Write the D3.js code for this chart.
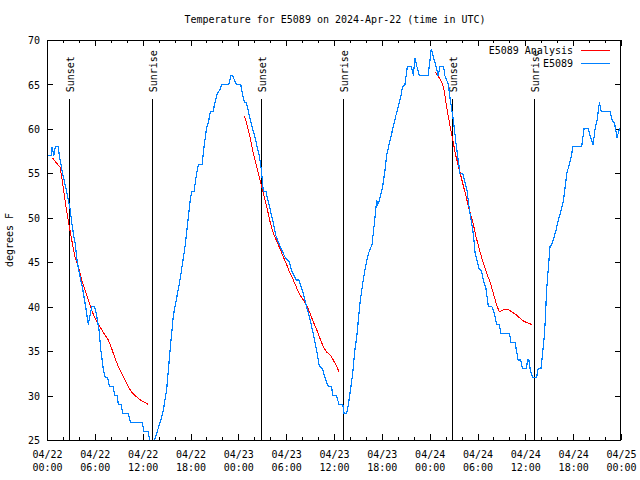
<!DOCTYPE html>
<html><head><meta charset="utf-8">
<script src="https://cdn.jsdelivr.net/npm/d3@7"></script>
<style>
html,body{margin:0;padding:0;background:#fff;}
svg{display:block;}
text{font-family:"DejaVu Sans Mono","Liberation Mono",monospace;font-size:10px;fill:#000;}
</style></head><body>
<svg id="c" width="640" height="480"></svg>
<script>
// ---------- data ----------
const startDate = "2024-04-22T00:00:00Z";
const titleText = "Temperature for E5089 on 2024-Apr-22 (time in UTC)";
const yLabel = "degrees F";
const seriesNames = ["E5089 Analysis", "E5089"];
const seriesColors = ["#ff0000", "#0080ff"];

// observed (hours after start, deg F)
const obsHours = [0.15,0.5,0.65,0.85,1.05,1.4,1.55,1.75,1.95,2.2,2.45,2.68,2.9,3.1,3.35,3.55,3.8,4.14,4.47,4.85,5.18,5.39,5.64,5.98,6.22,6.52,6.77,7.06,7.3,7.6,7.85,8.3,8.5,8.8,8.95,9.3,9.5,10.2,10.45,11.95,12.15,12.65,12.9,13.1,13.3,13.5,13.84,14.2,14.6,15.0,15.43,15.85,16.27,16.68,17.02,17.35,17.72,18.02,18.2,18.45,18.77,19.0,19.45,19.7,20.0,20.3,20.5,20.85,21.07,21.37,21.7,21.9,22.8,23.08,23.3,23.5,23.79,24.3,24.5,24.75,25.0,25.25,25.5,25.8,26.1,26.35,26.63,26.8,26.93,27.13,27.5,27.6,27.97,28.39,28.7,29.14,29.64,29.9,30.4,30.69,31.0,31.23,31.6,32.15,32.57,33.0,33.4,33.83,34.16,34.58,34.87,35.29,35.7,35.83,36.3,36.63,37.1,37.26,37.6,37.8,38.0,38.35,38.6,38.85,39.26,39.6,39.95,40.33,40.77,41.14,41.36,41.5,41.7,42.1,42.4,42.6,42.85,43.1,43.44,43.73,44.07,44.37,44.6,44.9,45.2,45.7,45.85,45.95,46.16,46.4,46.7,47.8,48.04,48.2,48.5,48.8,49.05,49.3,49.75,49.9,50.34,50.55,50.9,51.1,51.3,51.5,51.8,52.15,52.43,52.7,52.97,53.27,53.5,53.7,54.2,54.5,54.73,55.07,55.36,55.8,56.07,56.4,56.7,56.95,58.0,58.2,58.7,58.9,59.1,59.4,59.67,60.1,60.3,60.45,60.6,60.9,61.4,61.6,61.95,62.13,62.34,62.47,62.68,62.9,63.1,63.3,63.5,63.85,64.14,64.4,64.7,64.9,65.2,65.52,65.8,65.94,67.07,67.36,67.9,68.2,68.5,68.75,69.0,69.3,69.5,70.6,70.9,71.2,71.5,71.8,72];
const obsTemps = [57,57,58,57,58,58,57,56,55,54,53,52,51,49.5,48,47,45,43.4,42,40,38,39,40,40,39,37.4,35,33,32,32,31,31,30,30,29,29,28,28,27,27,26,26,25,24,24,25,26,27,28.4,30.6,35,39,41,43,45,47,50,52.4,53,53,55,56,56,58,60,61,62,62,63,64,64.4,65,65,66,66,65.5,65,65,64,63,63,62,61,60,59,58,57,56,55,53,53,52.4,51,49.4,48,47,46,45.5,45,44,43.5,43,43,41.5,40,38.5,37,35,33.3,33,32,31,31,30,30,29,29,28,28,29,30.2,32.5,35,36.6,40.4,42.6,44.5,46,47,50,52,51.5,52,53.5,55.4,57,58,59,60.25,61.4,62.5,63.6,64.75,65,67,67,66.5,66,68,67,66,66,67.75,69,68,67,66,67,67,66,65,63.5,61.4,60,58.4,57,55,55,54,53,51,49.4,48,46,44.3,44,43,42,40,40,39.4,38,38,37,37,36,36,35,34,34,33,33,34,34,33,32,32,33,33,34.4,36.3,38,42,44.5,46.75,47,47.5,48.6,49.75,50.5,51.6,52.75,55,56,57,58,58,60,60,59,58.2,60,61,63,62,62,61,60.6,59,60,60];

// analysis (null separates nightly segments)
const anaHours = [0.67,1.42,1.63,1.84,2.13,2.47,2.8,3.1,3.51,3.93,4.35,4.77,5.18,5.6,6.02,6.44,6.86,7.27,7.69,8.11,8.53,8.95,9.37,9.78,10.2,10.62,11.04,11.45,11.87,12.29,12.7,null,
  24.75,25.05,25.46,25.88,26.3,26.72,27.13,27.56,27.97,28.39,28.8,29.23,29.64,30.07,30.48,30.9,31.32,31.74,32.15,32.57,32.99,33.4,33.83,34.25,34.66,35.08,35.5,35.91,36.34,36.67,null,
  48.67,49.1,49.5,49.8,50.05,50.34,50.64,50.97,51.3,51.72,52.14,52.56,52.97,53.4,53.8,54.15,54.3,54.73,55.15,55.57,55.98,56.4,56.74,57.03,57.45,57.75,58.08,58.5,58.9,59.33,59.75,60.17,60.8];
const anaTemps = [56.76,55.9,55.75,54.6,52.75,50.7,49,47.5,45.6,44.5,43,41.9,40.75,39.6,38.7,38.1,37.4,36.8,36.25,35.3,34.2,33.25,32.5,31.75,31,30.4,30,29.7,29.4,29.24,29.0,null,
  61.45,60.6,59.1,57.25,55.75,54.25,52.75,51.25,49.6,48.25,47.4,46.5,45.6,44.7,43.75,43,42.1,41.3,40.75,40.2,39.25,38.3,37.4,36.4,35.5,34.9,34.6,34,33.25,32.6,null,
  66.4,65.9,65.3,64.4,62.9,61.4,59.9,58.4,56.9,55.4,53.9,52.4,50.9,49.6,47.9,46.75,46.2,44.9,43.75,42.8,41.5,40.2,39.4,39.55,39.7,39.7,39.55,39.3,39.06,38.7,38.4,38.2,38.0];

const eventLabels = ["Sunset","Sunrise","Sunset","Sunrise","Sunset","Sunrise"];
const eventHours = [2.8,13.2,26.88,37.17,50.85,61.13];
const eventTopTemp = 63.33;

const yTicks = [25,30,35,40,45,50,55,60,65,70];
const yDomain = [25,70];
const spanHours = 72;

// ---------- chart ----------
const t0 = new Date(startDate);
const toDate = h => new Date(t0.getTime() + h * 3600e3);
const t1 = toDate(spanHours);
const L = 47, R = 621, T = 40, B = 440;

const x = d3.scaleUtc().domain([t0, t1]).range([L, R]);
const y = d3.scaleLinear().domain(yDomain).range([B, T]);

const svg = d3.select("#c");
svg.append("rect").attr("width",640).attr("height",480).attr("fill","#fff");

svg.append("defs").append("clipPath").attr("id","clip")
  .append("rect").attr("x",L).attr("y",T).attr("width",R-L).attr("height",B-T);

const majorTimes = d3.utcHour.range(t0, toDate(spanHours + 0.1), 6);
const minorTimes = d3.utcHour.range(t0, toDate(spanHours + 0.1), 2).filter(d => d.getUTCHours() % 6 !== 0);
const fmt1 = d3.utcFormat("%m/%d"), fmt2 = d3.utcFormat("%H:%M");

function styleAxis(g){
  g.select(".domain").remove();
  g.selectAll("line").attr("stroke","#000").attr("shape-rendering","crispEdges");
  g.attr("font-family",null).attr("font-size",null);
}

// bottom major
const gB = svg.append("g").attr("transform",`translate(0,${B})`)
  .call(d3.axisBottom(x).tickValues(majorTimes).tickSizeInner(-6).tickSizeOuter(0).tickPadding(10).tickFormat(""));
styleAxis(gB);
gB.selectAll(".tick text").each(function(d){
  const t = d3.select(this).attr("dy", null).attr("y", 17.5);
  t.append("tspan").attr("x",0).attr("y",17.5).text(fmt1(d));
  t.append("tspan").attr("x",0).attr("y",30.5).text(fmt2(d));
});
// bottom minor
styleAxis(svg.append("g").attr("transform",`translate(0,${B})`)
  .call(d3.axisBottom(x).tickValues(minorTimes).tickSizeInner(-3).tickSizeOuter(0).tickFormat("")));
// top
styleAxis(svg.append("g").attr("transform",`translate(0,${T})`)
  .call(d3.axisTop(x).tickValues(majorTimes).tickSizeInner(-6).tickSizeOuter(0).tickFormat("")));
styleAxis(svg.append("g").attr("transform",`translate(0,${T})`)
  .call(d3.axisTop(x).tickValues(minorTimes).tickSizeInner(-3).tickSizeOuter(0).tickFormat("")));
// left
const gL = svg.append("g").attr("transform",`translate(${L},0)`)
  .call(d3.axisLeft(y).tickValues(yTicks).tickSizeInner(-6).tickSizeOuter(0).tickPadding(7).tickFormat(d3.format("d")));
styleAxis(gL);
gL.selectAll(".tick text").attr("dy","0.36em");
// right
styleAxis(svg.append("g").attr("transform",`translate(${R},0)`)
  .call(d3.axisRight(y).tickValues(yTicks).tickSizeInner(-6).tickSizeOuter(0).tickFormat("")));

// events (sunset / sunrise)
const ev = svg.append("g");
eventHours.forEach((h,i) => {
  const xx = Math.round(x(toDate(h))) + 0.5;
  ev.append("line").attr("x1",xx).attr("x2",xx).attr("y1",y(eventTopTemp)).attr("y2",y(yDomain[0]))
    .attr("stroke","#000").attr("shape-rendering","crispEdges");
  ev.append("text").attr("transform",`translate(${xx},${y(eventTopTemp)-7}) rotate(-90)`)
    .attr("y",4).attr("text-anchor","start").text(eventLabels[i]);
});

// series lines
const plot = svg.append("g").attr("clip-path","url(#clip)");
const obs = obsHours.map((h,i) => ({t: toDate(h), v: obsTemps[i]}));
const ana = anaHours.map((h,i) => ({t: h==null ? null : toDate(h), v: anaTemps[i]}));
const line = d3.line().defined(d => d.t != null && d.v != null).x(d => x(d.t)).y(d => y(d.v));
plot.append("path").datum(ana).attr("d",line).attr("fill","none")
  .attr("stroke",seriesColors[0]).attr("stroke-width",1).attr("shape-rendering","crispEdges");
plot.append("path").datum(obs).attr("d",line).attr("fill","none")
  .attr("stroke",seriesColors[1]).attr("stroke-width",1.2).attr("shape-rendering","crispEdges");

// border
svg.append("rect").attr("x",L+0.5).attr("y",T+0.5).attr("width",R-L-1).attr("height",B-T)
  .attr("fill","none").attr("stroke","#000").attr("shape-rendering","crispEdges");

// title & y label
svg.append("text").attr("x",335).attr("y",23).attr("text-anchor","middle").text(titleText);
svg.append("text").attr("transform","translate(13,240) rotate(-90)").attr("text-anchor","middle").text(yLabel);

// legend
const lg = svg.append("g");
seriesNames.forEach((name,i) => {
  const yy = 50 + i*13;
  lg.append("text").attr("x",573).attr("y",yy).attr("dy","0.35em").attr("text-anchor","end").text(name);
  lg.append("line").attr("x1",581).attr("x2",610).attr("y1",yy+0.5).attr("y2",yy+0.5)
    .attr("stroke",seriesColors[i]).attr("shape-rendering","crispEdges");
});
</script>
</body></html>
